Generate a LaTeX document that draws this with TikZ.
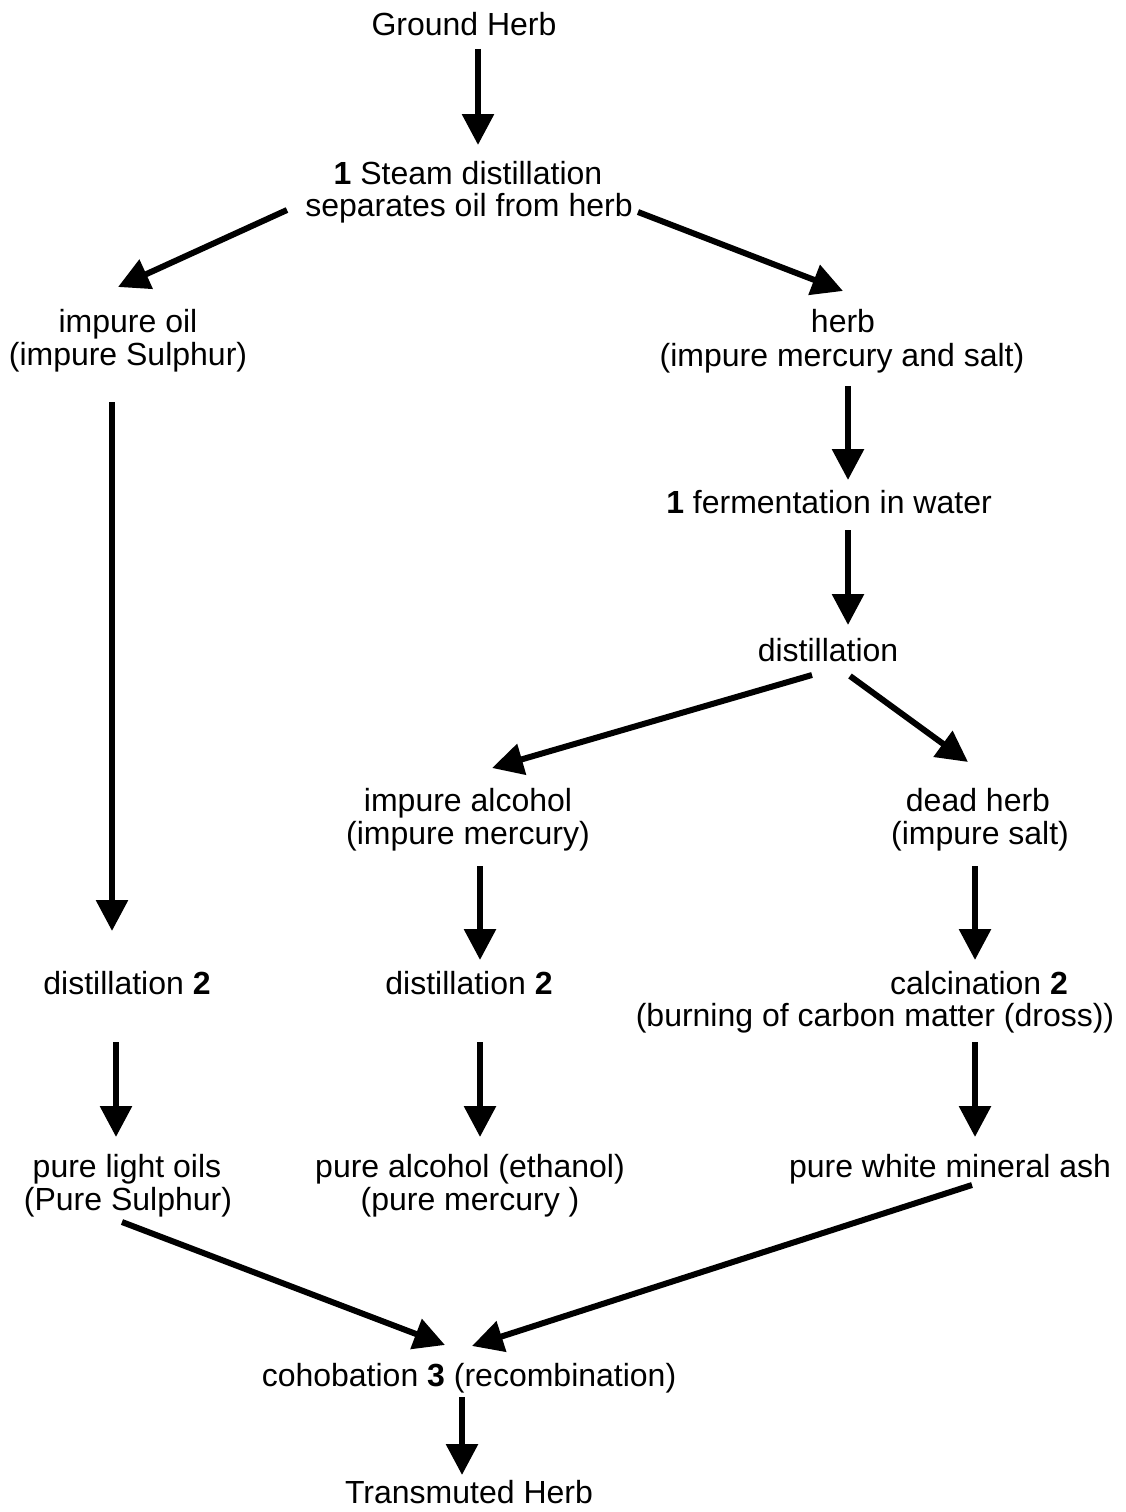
\documentclass[tikz,border=0pt]{standalone}
\usepackage{fontspec}
\setmainfont{Liberation Sans}
\usetikzlibrary{arrows.meta}
\tikzset{
  lbl/.style={anchor=base, inner sep=0pt, font=\fontsize{32}{33}\selectfont},
  flow/.style={line width=6pt, -{Triangle[length=31pt,width=31pt]}}
}
\begin{document}
\begin{tikzpicture}[x=1pt,y=-1pt]
\useasboundingbox (0,0) rectangle (1126,1512);
% texts
\node[lbl] (ground) at (464,36) {Ground Herb};
\node[lbl] (steamA) at (468,184) {\textbf{1} Steam distillation};
\node[lbl] (steamB) at (469,216) {separates oil from herb};
\node[lbl] (oilA) at (128,332) {impure oil};
\node[lbl] (oilB) at (128,365) {(impure Sulphur)};
\node[lbl] (herbA) at (843,332) {herb};
\node[lbl] (herbB) at (842,366) {(impure mercury and salt)};
\node[lbl] (ferm) at (829,513) {\textbf{1} fermentation in water};
\node[lbl] (dist) at (828,661) {distillation};
\node[lbl] (alcA) at (468,811) {impure alcohol};
\node[lbl] (alcB) at (468,844) {(impure mercury)};
\node[lbl] (deadA) at (978,811) {dead herb};
\node[lbl] (deadB) at (980,844) {(impure salt)};
\node[lbl] (distL) at (127,994) {distillation \textbf{2}};
\node[lbl] (distM) at (469,994) {distillation \textbf{2}};
\node[lbl] (calcA) at (979,994) {calcination \textbf{2}};
\node[lbl] (calcB) at (875,1026) {(burning of carbon matter (dross))};
\node[lbl] (plA) at (127,1177) {pure light oils};
\node[lbl] (plB) at (128,1210) {(Pure Sulphur)};
\node[lbl] (paA) at (470,1177) {pure alcohol (ethanol)};
\node[lbl] (paB) at (470,1210) {(pure mercury )};
\node[lbl] (ash) at (950,1177) {pure white mineral ash};
\node[lbl] (coho) at (469,1386) {cohobation \textbf{3} (recombination)};
\node[lbl] (trans) at (469,1503) {Transmuted Herb};
% connector end points
\coordinate (a1s) at (478,49);   \coordinate (a1e) at (478,145);
\coordinate (a2s) at (287,210);  \coordinate (a2e) at (118,287);
\coordinate (a3s) at (638,212);  \coordinate (a3e) at (843,291);
\coordinate (a4s) at (112,402);  \coordinate (a4e) at (112,931);
\coordinate (a5s) at (848,386);  \coordinate (a5e) at (848,480);
\coordinate (a6s) at (848,530);  \coordinate (a6e) at (848,625);
\coordinate (a7s) at (812,675);  \coordinate (a7e) at (492,768);
\coordinate (a8s) at (850,676);  \coordinate (a8e) at (968,762);
\coordinate (a9s) at (480,866);  \coordinate (a9e) at (480,960);
\coordinate (a10s) at (975,866); \coordinate (a10e) at (975,960);
\coordinate (a11s) at (116,1042); \coordinate (a11e) at (116,1137);
\coordinate (a12s) at (480,1042); \coordinate (a12e) at (480,1137);
\coordinate (a13s) at (975,1042); \coordinate (a13e) at (975,1137);
\coordinate (a14s) at (122,1222); \coordinate (a14e) at (445,1345);
\coordinate (a15s) at (972,1185); \coordinate (a15e) at (472,1346);
\coordinate (a16s) at (462,1397); \coordinate (a16e) at (462,1475);
% connectors
\draw[flow] (a1s) -- (a1e);
\draw[flow] (a2s) -- (a2e);
\draw[flow] (a3s) -- (a3e);
\draw[flow] (a4s) -- (a4e);
\draw[flow] (a5s) -- (a5e);
\draw[flow] (a6s) -- (a6e);
\draw[flow] (a7s) -- (a7e);
\draw[flow] (a8s) -- (a8e);
\draw[flow] (a9s) -- (a9e);
\draw[flow] (a10s) -- (a10e);
\draw[flow] (a11s) -- (a11e);
\draw[flow] (a12s) -- (a12e);
\draw[flow] (a13s) -- (a13e);
\draw[flow] (a14s) -- (a14e);
\draw[flow] (a15s) -- (a15e);
\draw[flow] (a16s) -- (a16e);
\end{tikzpicture}
\end{document}
